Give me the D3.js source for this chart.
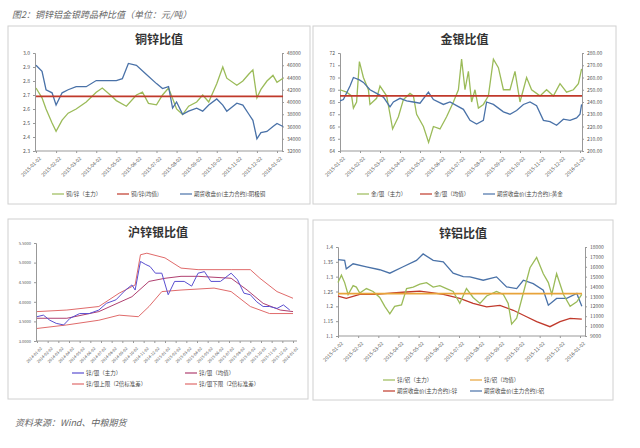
<!DOCTYPE html>
<html><head><meta charset="utf-8">
<script src="https://cdn.jsdelivr.net/npm/d3@7"></script>
<style>
body{margin:0;background:#fff;font-family:"Noto Sans CJK SC",sans-serif}
text{font-family:"Noto Sans CJK SC",sans-serif}
</style></head><body>
<svg id="c" width="640" height="448"></svg>
<script>
'use strict'
// tick labels
const dates15 = d3.range(13).map(i => i < 12 ? `2015-${String(i + 1).padStart(2, '0')}-02` : '2016-01-02')
const dates14 = d3.range(25).map(i => `${2014 + Math.floor(i / 12)}-${String(i % 12 + 1).padStart(2, '0')}-02`)

// 铜锌 [month, value]
const cuZnMain = [[0,2.75],[0.3,2.68],[0.5,2.6],[0.8,2.5],[1,2.44],[1.3,2.52],[1.6,2.57],[2,2.6],[2.5,2.65],[3,2.72],[3.3,2.75],[3.7,2.7],[4,2.66],[4.5,2.62],[5,2.7],[5.3,2.72],[5.6,2.64],[6,2.63],[6.3,2.7],[6.6,2.75],[7,2.6],[7.3,2.56],[7.6,2.62],[8,2.65],[8.3,2.7],[8.6,2.65],[9,2.78],[9.3,2.9],[9.5,2.82],[10,2.77],[10.3,2.8],[10.6,2.85],[10.8,2.88],[11,2.68],[11.2,2.74],[11.5,2.8],[11.8,2.84],[12,2.79],[12.3,2.82]]
const cuPrice = [[0,46000],[0.3,45000],[0.5,42000],[0.8,41500],[1,39500],[1.3,41500],[1.6,42000],[2,42500],[2.5,42500],[3,43500],[3.5,43500],[4,43500],[4.3,43800],[4.6,46300],[5,46000],[5.5,44500],[6,43000],[6.3,42200],[6.6,42500],[6.8,39000],[7,40000],[7.3,38000],[7.6,38500],[8,39000],[8.3,38500],[8.6,39500],[9,40500],[9.3,39500],[9.5,38500],[10,39800],[10.3,39500],[10.6,38000],[10.8,37000],[11,34000],[11.2,35000],[11.5,35200],[11.8,36000],[12,36500],[12.3,36000]]
const cuZnMean = 2.69

// 金银
const auAgMain = [[0,69],[0.33,68.8],[0.58,68.5],[0.67,67.5],[0.83,68],[0.97,71.3],[1.17,70],[1.42,69],[1.5,67.8],[1.83,68.3],[2,69.3],[2.33,68.5],[2.5,67],[2.63,65.8],[2.92,66.8],[3.17,68.2],[3.5,68.7],[3.67,68.5],[3.83,67],[4.17,66],[4.43,64.7],[4.67,66],[5,65.8],[5.33,66.8],[5.67,68],[5.92,69],[6.08,71.5],[6.25,69],[6.42,70.5],[6.58,68],[6.75,69],[6.92,67.5],[7.17,67.8],[7.42,68.5],[7.67,71.5],[7.92,70.8],[8.17,69],[8.5,69],[8.75,70.5],[9,68],[9.33,70],[9.58,69],[10,68.5],[10.33,69],[10.67,68.5],[11,69.5],[11.33,68.8],[11.67,69],[11.92,69.5],[12.08,70.7]]
const auPrice = [[0,241],[0.17,242],[0.5,253],[0.67,260],[0.97,258],[1.17,256],[1.5,250],[1.83,247],[2.17,244],[2.5,236],[2.67,240],[3,243],[3.33,241],[3.67,240],[4,239],[4.42,248],[4.67,242],[5.17,238],[5.5,240],[5.83,237],[6.17,234],[6.5,225],[6.83,222],[7.17,225],[7.33,240],[7.67,238],[8.17,232],[8.5,230],[8.83,233],[9.17,238],[9.5,240],[9.83,237],[10.17,225],[10.5,224],[10.83,221],[11.17,226],[11.5,225],[11.83,227],[12,230],[12.08,238]]
const auAgMean = 68.5

// 沪锌银
const znAgMain = [[0,3.62],[0.6,3.66],[1.2,3.53],[1.8,3.45],[2.5,3.41],[3.1,3.58],[4,3.7],[4.9,3.7],[5.8,3.79],[6.5,3.96],[7.4,4.05],[8.3,4.3],[8.9,4.43],[9.2,4.3],[9.7,5.03],[10.2,4.95],[10.6,4.9],[11.1,4.73],[11.7,4.73],[12.3,4.18],[12.9,4.52],[13.8,4.52],[14.5,4.4],[15.1,4.73],[15.7,4.77],[16.3,4.52],[17.2,4.52],[18.2,4.73],[18.8,4.56],[19.4,4.22],[20,4.18],[20.6,4],[21.2,3.88],[21.8,3.88],[22.5,3.83],[23.1,3.92],[23.7,3.79]]
const znAgUpper = [[0,3.75],[2.8,3.79],[5.8,3.88],[7.7,4.22],[9.2,4.43],[9.7,5.2],[10.3,5.24],[12,5.12],[13.5,4.86],[15.1,4.82],[18.2,4.82],[20,4.82],[20.9,4.6],[22.5,4.26],[24,4.09]]
const znAgMean = [[0,3.58],[2.8,3.58],[5.8,3.75],[8.9,4.13],[10.5,4.52],[12,4.6],[13.5,4.65],[15.1,4.65],[18.2,4.6],[19.7,4.3],[21.2,3.96],[22.8,3.79],[24,3.75]]
const znAgLower = [[0,3.32],[2.8,3.41],[5.8,3.53],[7.7,3.66],[9.5,3.62],[10.5,3.88],[11.7,4.26],[13.5,4.3],[16.6,4.35],[18.2,4.26],[20,3.88],[21.8,3.7],[24,3.7]]

// 锌铝
const znAlMain = [[0,1.28],[0.17,1.305],[0.33,1.28],[0.5,1.24],[0.75,1.27],[0.91,1.265],[1.08,1.245],[1.41,1.26],[1.74,1.25],[2.07,1.23],[2.32,1.2],[2.57,1.175],[2.81,1.2],[3.15,1.205],[3.4,1.26],[3.73,1.265],[4.06,1.275],[4.39,1.28],[4.72,1.265],[5.05,1.27],[5.38,1.26],[5.71,1.25],[6.04,1.21],[6.37,1.26],[6.7,1.23],[7.04,1.21],[7.37,1.235],[7.86,1.25],[8.2,1.24],[8.44,1.21],[8.61,1.14],[8.86,1.16],[9.19,1.245],[9.52,1.33],[9.85,1.365],[10.18,1.31],[10.43,1.28],[10.6,1.24],[10.84,1.31],[11.18,1.24],[11.51,1.2],[11.84,1.215],[12.09,1.24]]
const znPrice = [[0,13030],[0.41,12800],[1.08,13200],[1.9,13200],[2.73,13370],[3.39,13450],[4.06,13530],[4.72,13370],[5.22,13200],[6.04,12800],[6.7,12300],[7.37,11950],[8.03,12100],[8.69,11600],[9.35,10950],[9.85,10450],[10.51,9940],[11.01,10450],[11.51,10780],[12.09,10700]]
const alPrice = [[0,16720],[0.33,16650],[0.41,15800],[0.75,16300],[1.41,16000],[2.07,15700],[2.57,15350],[3.23,16000],[3.89,16650],[4.22,17300],[4.72,16650],[5.22,16500],[5.71,15350],[6.21,15000],[6.54,14980],[7.2,14640],[7.86,14980],[8.36,13970],[8.86,13800],[9.19,14640],[9.68,14300],[10.18,13630],[10.43,12120],[10.84,12800],[11.34,12800],[11.84,13300],[12.09,12000]]
const znAlMean = 1.243

const GREEN = '#9bbb59', BLUE = '#4a72a8', RED = '#c0392b', ORANGE = '#e8a33a'
const svg = d3.select('#c')

svg.append('text').attr('x', 12).attr('y', 18).attr('font-size', 9).attr('font-style', 'italic')
  .attr('fill', '#666').text('图2：铜锌铝金银跨品种比值（单位：元/吨）')
svg.append('text').attr('x', 15).attr('y', 426).attr('font-size', 9).attr('font-style', 'italic')
  .attr('fill', '#666').text('资料来源：Wind、中粮期货')

function panel (o) {
  const g = svg.append('g')
  g.append('rect').attr('x', o.box[0]).attr('y', o.box[1]).attr('width', o.box[2]).attr('height', o.box[3])
    .attr('fill', '#fff').attr('stroke', '#d0d0d0')
  g.append('text').attr('x', o.box[0] + o.box[2] / 2).attr('y', o.box[1] + 18).attr('text-anchor', 'middle')
    .attr('font-size', 12).attr('font-weight', 'bold').attr('fill', '#333').text(o.title)
  const [x0, y0, x1, y1] = o.plot
  const x = d3.scaleLinear().domain([0, o.xTicks.length - 1]).range([o.tx0, o.tx1])
  const yl = d3.scaleLinear().domain(o.yl).range([y1, y0])
  const yr = o.yr ? d3.scaleLinear().domain(o.yr).range([y1, y0]) : null
  const ax = g.append('g').attr('transform', `translate(${x0},0)`)
    .call(d3.axisLeft(yl).tickValues(d3.range(o.yl[0], o.yl[1] + 1e-9, o.ylStep)).tickSize(2).tickFormat(o.ylFmt))
  if (yr) {
    g.append('g').attr('transform', `translate(${x1},0)`)
      .call(d3.axisRight(yr).tickValues(d3.range(o.yr[0], o.yr[1] + 1e-9, o.yrStep)).tickSize(2).tickFormat(o.yrFmt))
  }
  const xa = g.append('g').attr('transform', `translate(0,${y1})`)
    .call(d3.axisBottom(x).tickValues(d3.range(o.xTicks.length)).tickSize(2).tickFormat(i => o.xTicks[i]))
  xa.select('.domain').attr('d', `M${x0},0H${x1}`)
  xa.selectAll('text').attr('transform', 'rotate(-45)').attr('text-anchor', 'end').attr('dx', '-2').attr('dy', '4')
  g.selectAll('.domain').attr('stroke', '#999')
  g.selectAll('.tick line').attr('stroke', '#999')
  g.selectAll('.tick text').attr('font-size', o.fs || 5).attr('fill', '#555')
  o.lines.forEach(l => {
    const ys = l.right ? yr : yl
    const data = l.flat !== undefined ? [[0, l.flat], [o.xMax, l.flat]] : l.data
    g.append('path').datum(data).attr('fill', 'none').attr('stroke', l.color).attr('stroke-width', l.w || 1.3)
      .attr('d', d3.line().x(d => x(d[0])).y(d => ys(d[1])))
  })
  o.legend.forEach(L => {
    g.append('line').attr('x1', L.x).attr('x2', L.x + 12).attr('y1', L.y).attr('y2', L.y).attr('stroke', L.color).attr('stroke-width', 1.2)
    g.append('text').attr('x', L.x + 14).attr('y', L.y + 2).attr('font-size', 5.5).attr('fill', '#444').text(L.text)
  })
}

panel({
  box: [8, 26, 302, 178], title: '铜锌比值', plot: [35, 53, 282, 151], tx0: 36, tx1: 277, xTicks: dates15, xMax: 12.3,
  yl: [2.3, 3], ylStep: 0.1, ylFmt: d3.format('.1f'), yr: [32000, 48000], yrStep: 2000, yrFmt: d3.format('d'),
  lines: [{ data: cuZnMain, color: GREEN }, { data: cuPrice, color: BLUE, right: true }, { flat: cuZnMean, color: RED, w: 1.6 }],
  legend: [{ x: 52, y: 194, color: GREEN, text: '铜/锌（主力）' }, { x: 117, y: 194, color: RED, text: '铜/锌(均值)' },
    { x: 180, y: 194, color: BLUE, text: '期货收盘价(主力合约):阴极铜' }]
})

panel({
  box: [313, 26, 303, 178], title: '金银比值', plot: [340, 53, 582, 151], tx0: 340, tx1: 580, xTicks: dates15, xMax: 12.1,
  yl: [64, 72], ylStep: 1, ylFmt: d3.format('d'), yr: [200, 280], yrStep: 10, yrFmt: d3.format('.2f'),
  lines: [{ data: auAgMain, color: GREEN }, { data: auPrice, color: BLUE, right: true }, { flat: auAgMean, color: RED, w: 1.6 }],
  legend: [{ x: 357, y: 194, color: GREEN, text: '金/银（主力）' }, { x: 420, y: 194, color: RED, text: '金/银（均值）' },
    { x: 483, y: 194, color: BLUE, text: '期货收盘价(主力合约):黄金' }]
})

panel({
  box: [8, 219, 300, 180], title: '沪锌银比值', plot: [36, 243, 297, 341], tx0: 37, tx1: 293, xTicks: dates14, xMax: 24, fs: 4,
  yl: [3, 5.5], ylStep: 0.5, ylFmt: d3.format('.4f'),
  lines: [{ data: znAgUpper, color: '#e06b6b', w: 1 }, { data: znAgLower, color: '#e06b6b', w: 1 },
    { data: znAgMean, color: '#b04070', w: 1 }, { data: znAgMain, color: '#5a4fd0', w: 1 }],
  legend: [{ x: 72, y: 373, color: '#5a4fd0', text: '锌/银（主力）' }, { x: 185, y: 373, color: '#b04070', text: '锌/银（均值）' },
    { x: 72, y: 384, color: '#e06b6b', text: '锌/银上限（2倍标准差）' }, { x: 185, y: 384, color: '#e06b6b', text: '锌/银下限（2倍标准差）' }]
})

panel({
  box: [313, 220, 300, 180], title: '锌铝比值', plot: [338, 247, 585, 336], tx0: 338, tx1: 580, xTicks: dates15, xMax: 12.1,
  yl: [1.1, 1.4], ylStep: 0.05, ylFmt: d => d3.format('.2~f')(d), yr: [9000, 18000], yrStep: 1000, yrFmt: d3.format('d'),
  lines: [{ data: alPrice, color: BLUE, right: true }, { data: znPrice, color: RED, right: true },
    { data: znAlMain, color: GREEN }, { flat: znAlMean, color: ORANGE, w: 1.6 }],
  legend: [{ x: 383, y: 380, color: GREEN, text: '锌/铝（主力）' }, { x: 470, y: 380, color: ORANGE, text: '锌/铝（均值）' },
    { x: 383, y: 391, color: RED, text: '期货收盘价(主力合约):锌' }, { x: 470, y: 391, color: BLUE, text: '期货收盘价(主力合约):铝' }]
})
</script></body></html>
